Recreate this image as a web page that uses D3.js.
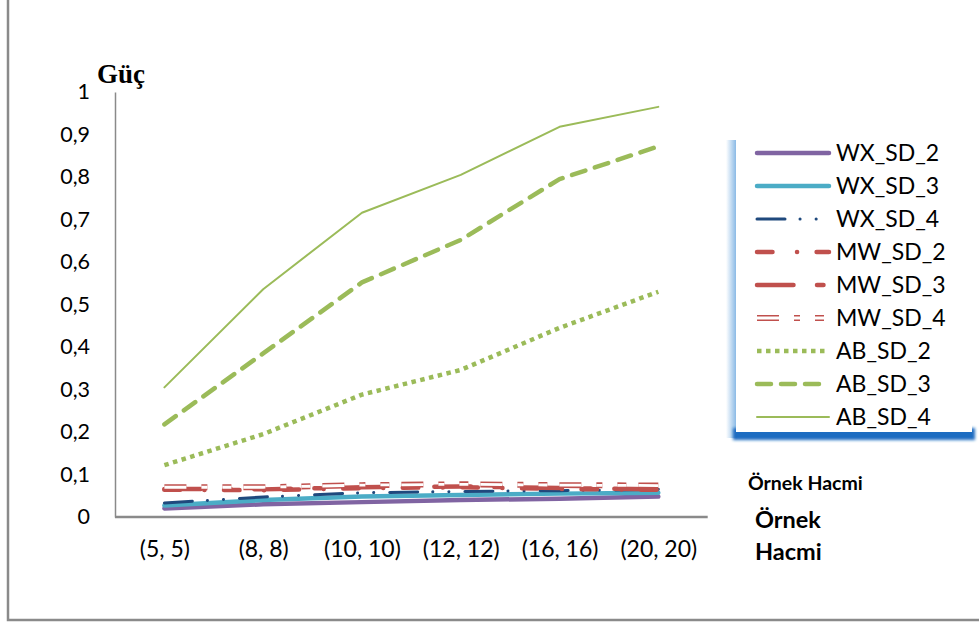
<!DOCTYPE html>
<html>
<head>
<meta charset="utf-8">
<script src="https://cdn.jsdelivr.net/npm/d3@7/dist/d3.min.js"></script>
<style>
  html, body { margin: 0; padding: 0; background: #fff; }
  svg { display: block; }
</style>
</head>
<body>
<svg id="chart" width="979" height="623"></svg>
<script>
// Sample sizes (n1, n2)
const categories = ["(5, 5)", "(8, 8)", "(10, 10)", "(12, 12)", "(16, 16)", "(20, 20)"];

// Power values per test / standard-deviation setting
const WX_SD_2 = [0.020, 0.030, 0.035, 0.040, 0.043, 0.048];
const WX_SD_3 = [0.027, 0.040, 0.048, 0.052, 0.055, 0.057];
const WX_SD_4 = [0.033, 0.047, 0.057, 0.060, 0.062, 0.065];
const MW_SD_2 = [0.064, 0.063, 0.068, 0.070, 0.066, 0.064];
const MW_SD_3 = [0.066, 0.065, 0.070, 0.072, 0.068, 0.065];
const MW_SD_4 = [0.070, 0.070, 0.075, 0.077, 0.075, 0.074];
const AB_SD_2 = [0.122, 0.195, 0.288, 0.346, 0.445, 0.530];
const AB_SD_3 = [0.218, 0.385, 0.552, 0.652, 0.795, 0.872];
const AB_SD_4 = [0.305, 0.536, 0.716, 0.805, 0.918, 0.965];

const yTicks = [0, 0.1, 0.2, 0.3, 0.4, 0.5, 0.6, 0.7, 0.8, 0.9, 1];
const yTickLabels = ["0", "0,1", "0,2", "0,3", "0,4", "0,5", "0,6", "0,7", "0,8", "0,9", "1"];

const seriesNames = ["WX_SD_2", "WX_SD_3", "WX_SD_4", "MW_SD_2", "MW_SD_3", "MW_SD_4", "AB_SD_2", "AB_SD_3", "AB_SD_4"];
const seriesValues = [WX_SD_2, WX_SD_3, WX_SD_4, MW_SD_2, MW_SD_3, MW_SD_4, AB_SD_2, AB_SD_3, AB_SD_4];

// Stroke styles for each series
const styles = {
  WX_SD_2: { color: "#8064A2", width: 4.5, dash: null, cap: "round" },
  WX_SD_3: { color: "#4BACC6", width: 4.5, dash: null, cap: "round" },
  WX_SD_4: { color: "#1F497D", width: 3, dash: "28 15 0.1 16 0.1 16", cap: "round" },
  MW_SD_2: { color: "#C0504D", width: 4.5, dash: "15.5 24.5 0.1 19.5", cap: "round" },
  MW_SD_3: { color: "#C0504D", width: 4.5, dash: "36.5 23.5 6.5 23.5", cap: "round" },
  MW_SD_4: { color: "#C0504D", width: 6, dash: "22 15 6 15 9 12", cap: "butt", double: true },
  AB_SD_2: { color: "#9BBB59", width: 4.5, dash: "4.5 4.5", cap: "butt" },
  AB_SD_3: { color: "#9BBB59", width: 4.5, dash: "14 10", cap: "round" },
  AB_SD_4: { color: "#9BBB59", width: 2, dash: null, cap: "round" }
};

const svg = d3.select("#chart");
const font = "Lato, 'Open Sans', sans-serif";

// Outer frame (left and bottom edges)
svg.append("path")
  .attr("d", "M8,0 V620 H979")
  .attr("fill", "none")
  .attr("stroke", "#8a8a8a")
  .attr("stroke-width", 2.5);

// Scales
const x = d3.scalePoint().domain(categories).range([115, 707.7]).padding(0.5);
const y = d3.scaleLinear().domain([0, 1]).range([517, 92]);

// Axes
const yAxis = d3.axisLeft(y).tickValues(yTicks).tickSize(0).tickPadding(25)
  .tickFormat((d, i) => yTickLabels[i]);
const gy = svg.append("g").attr("transform", "translate(115,0)").call(yAxis);
gy.select(".domain").attr("stroke", "#8a8a8a").attr("stroke-width", 1.5);
gy.selectAll("text").attr("font-family", font).attr("font-size", 21.5).attr("fill", "#000");

const xAxis = d3.axisBottom(x).tickSize(0).tickPadding(24);
const gx = svg.append("g").attr("transform", "translate(0,517)").call(xAxis);
gx.select(".domain").attr("stroke", "#8a8a8a").attr("stroke-width", 2.5).attr("d", "M115,0H707.7");
gx.selectAll("text").attr("font-family", font).attr("font-size", 23).attr("fill", "#000");

// Lines
const line = d3.line().x((d, i) => x(categories[i])).y(d => y(d));

function drawStroke(sel, st) {
  sel.attr("fill", "none")
    .attr("stroke", st.color)
    .attr("stroke-width", st.width)
    .attr("stroke-linecap", st.cap)
    .attr("stroke-linejoin", "round");
  if (st.dash) sel.attr("stroke-dasharray", st.dash);
  return sel;
}
function drawInner(sel, st) {
  sel.attr("fill", "none")
    .attr("stroke", "#fff")
    .attr("stroke-width", 2.8)
    .attr("stroke-linecap", st.cap)
    .attr("stroke-linejoin", "round");
  if (st.dash) sel.attr("stroke-dasharray", st.dash);
  return sel;
}

const plot = svg.append("g");
seriesNames.forEach((name, k) => {
  const st = styles[name];
  drawStroke(plot.append("path").attr("d", line(seriesValues[k])), st);
  if (st.double) drawInner(plot.append("path").attr("d", line(seriesValues[k])), st);
});

// Y-axis title
svg.append("text")
  .attr("x", 97).attr("y", 83)
  .attr("font-family", "'Liberation Serif', 'Times New Roman', serif")
  .attr("font-weight", "bold").attr("font-size", 27)
  .text("Güç");

// X-axis titles
svg.append("text")
  .attr("x", 748).attr("y", 490)
  .attr("font-family", font).attr("font-weight", "bold").attr("font-size", 19.5)
  .text("Örnek Hacmi");
svg.append("text")
  .attr("x", 755).attr("y", 528)
  .attr("font-family", font).attr("font-weight", "bold").attr("font-size", 23.5)
  .text("Örnek");
svg.append("text")
  .attr("x", 755).attr("y", 560)
  .attr("font-family", font).attr("font-weight", "bold").attr("font-size", 23.5)
  .text("Hacmi");

// Legend with blue edge shading
const defs = svg.append("defs");
const lg = defs.append("linearGradient").attr("id", "leftShade").attr("x1", 0).attr("x2", 1);
lg.append("stop").attr("offset", 0).attr("stop-color", "#ffffff");
lg.append("stop").attr("offset", 1).attr("stop-color", "#7fb3e3");
defs.append("filter").attr("id", "soft").attr("x", "-10%").attr("y", "-50%").attr("width", "120%").attr("height", "200%")
  .append("feGaussianBlur").attr("stdDeviation", 1.6);

const legend = svg.append("g");
legend.append("rect").attr("x", 726).attr("y", 140).attr("width", 11).attr("height", 298).attr("fill", "url(#leftShade)");
legend.append("rect").attr("x", 733).attr("y", 428).attr("width", 242).attr("height", 12)
  .attr("fill", "#1d6cc1").attr("filter", "url(#soft)");
legend.append("rect").attr("x", 736).attr("y", 140).attr("width", 236).attr("height", 292).attr("fill", "#fff");

seriesNames.forEach((name, i) => {
  const st = styles[name];
  const ly = 153 + i * 33;
  const seg = `M757,${ly}H829`;
  drawStroke(legend.append("path").attr("d", seg), st);
  if (st.double) drawInner(legend.append("path").attr("d", seg), st);
  legend.append("text")
    .attr("x", 836).attr("y", ly).attr("dy", "0.35em")
    .attr("font-family", font).attr("font-size", 23).attr("fill", "#000")
    .text(name);
});
</script>
</body>
</html>
